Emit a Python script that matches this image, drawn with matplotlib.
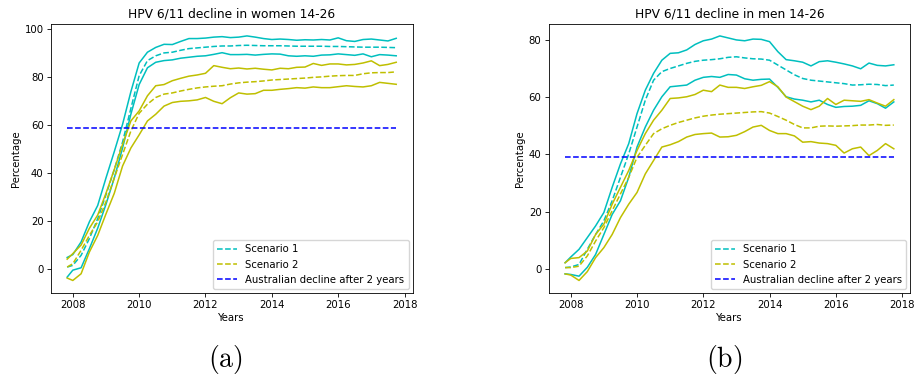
import numpy as np
import matplotlib
matplotlib.use("Agg")
import matplotlib.pyplot as plt

plt.rcParams['mathtext.fontset'] = 'cm'

# Time axis (years), roughly quarterly from Nov 2007 to Oct 2017
years = [2007.83, 2008.0, 2008.25, 2008.5, 2008.75, 2009.0, 2009.25, 2009.5, 2009.75,
         2010.0, 2010.25, 2010.5, 2010.75, 2011.0, 2011.25, 2011.5, 2011.75,
         2012.0, 2012.25, 2012.5, 2012.75, 2013.0, 2013.25, 2013.5, 2013.75,
         2014.0, 2014.25, 2014.5, 2014.75, 2015.0, 2015.25, 2015.5, 2015.75,
         2016.0, 2016.25, 2016.5, 2016.75, 2017.0, 2017.25, 2017.5, 2017.75]

# ---- Women 14-26 ----
w_s1_hi = [4.8, 6.0, 11.3, 19.7, 26.5, 38.0, 49.0, 60.4, 74.0,
           86.0, 90.5, 92.5, 93.8, 93.7, 95.0, 96.2, 96.2,
           96.4, 96.8, 97.0, 96.6, 96.8, 97.3, 96.8, 96.2,
           95.8, 96.0, 95.8, 95.5, 95.7, 95.6, 95.8, 95.6,
           96.5, 95.3, 95.0, 95.8, 96.0, 95.6, 95.2, 96.3]
w_s1_mid = [0.8, 1.5, 5.7, 12.7, 21.0, 31.0, 41.5, 53.0, 67.0,
            80.7, 87.0, 89.0, 90.2, 90.5, 91.3, 92.0, 92.3,
            92.6, 92.9, 93.1, 93.1, 93.3, 93.4, 93.3, 93.2,
            93.2, 93.2, 93.1, 93.0, 93.0, 93.0, 93.0, 92.9,
            92.9, 92.8, 92.7, 92.6, 92.6, 92.6, 92.5, 92.4]
w_s1_lo = [-3.4, -0.5, 0.5, 8.5, 17.0, 27.0, 38.0, 50.5, 64.6,
           77.0, 84.0, 86.3, 87.0, 87.3, 88.0, 88.4, 88.8,
           89.0, 89.6, 90.3, 89.5, 89.5, 89.6, 89.3, 89.6,
           89.8, 89.7, 89.0, 88.8, 89.0, 88.8, 89.3, 89.4,
           89.8, 89.5, 89.2, 89.8, 88.6, 89.5, 89.3, 89.0]
w_s2_hi = [4.1, 6.4, 10.0, 17.0, 22.5, 31.6, 41.5, 52.0, 61.8,
           66.0, 72.3, 76.5, 77.0, 78.6, 79.6, 80.5, 81.0,
           81.7, 84.9, 84.2, 83.6, 83.9, 83.5, 83.8, 83.4,
           83.1, 83.8, 83.6, 84.2, 84.3, 85.8, 85.0, 85.6,
           85.6, 85.2, 85.4, 86.0, 86.9, 84.9, 85.4, 86.3]
w_s2_mid = [0.8, 2.2, 7.8, 14.0, 19.7, 28.0, 38.0, 47.8, 57.6,
            65.0, 68.8, 71.6, 73.0, 73.5, 74.3, 75.0, 75.6,
            76.0, 76.3, 76.5, 77.2, 77.7, 78.0, 78.2, 78.5,
            78.9, 79.1, 79.3, 79.5, 79.7, 80.0, 80.2, 80.5,
            80.7, 80.8, 80.8, 81.5, 81.9, 82.0, 82.0, 82.3]
w_s2_lo = [-3.8, -4.8, -2.0, 7.1, 14.0, 23.0, 31.6, 43.0, 50.5,
           56.0, 61.8, 64.6, 68.0, 69.5, 70.0, 70.2, 70.6,
           71.6, 70.0, 69.0, 71.5, 73.5, 73.0, 73.2, 74.6,
           74.6, 75.0, 75.3, 75.7, 75.5, 76.0, 75.7, 75.7,
           76.1, 76.5, 76.2, 76.0, 76.5, 77.9, 77.5, 77.1]
w_aus = 59.0

# ---- Men 14-26 ----
m_s1_hi = [2.1, 4.1, 6.8, 10.9, 15.0, 19.7, 28.5, 36.7, 43.8,
           54.3, 62.5, 68.4, 73.0, 75.4, 75.6, 76.6, 78.5,
           79.8, 80.4, 81.5, 80.8, 80.1, 79.8, 80.4, 80.3,
           79.5, 76.0, 73.2, 72.8, 72.3, 71.0, 72.5, 72.8,
           72.3, 71.7, 71.0, 70.0, 72.0, 71.2, 71.0, 71.4]
m_s1_mid = [0.4, 0.6, 1.5, 6.8, 12.0, 16.8, 23.8, 32.0, 40.2,
            49.6, 59.0, 66.0, 69.0, 70.1, 71.0, 71.9, 72.6,
            73.0, 73.2, 73.5, 74.0, 74.2, 73.8, 73.5, 73.4,
            73.0, 71.3, 69.6, 67.9, 66.6, 66.0, 65.7, 65.4,
            65.1, 64.8, 64.3, 64.4, 64.6, 64.5, 64.1, 64.3]
m_s1_lo = [-1.8, -2.0, -2.6, 0.5, 5.0, 12.0, 19.0, 23.8, 32.0,
           42.6, 49.6, 55.5, 60.2, 63.7, 64.0, 64.3, 66.0,
           67.0, 67.3, 67.0, 68.0, 67.8, 66.5, 66.0, 66.3,
           66.4, 63.5, 60.2, 59.4, 59.0, 58.4, 59.0, 57.5,
           56.5, 56.8, 56.9, 57.2, 58.8, 57.8, 56.2, 58.4]
m_s2_hi = [2.1, 3.6, 3.9, 6.2, 12.0, 15.6, 22.6, 28.5, 34.4,
           41.4, 47.3, 52.0, 55.5, 59.6, 59.8, 60.2, 61.0,
           62.5, 62.0, 64.3, 63.5, 63.5, 63.1, 63.7, 64.2,
           65.5, 63.7, 60.1, 58.5, 56.9, 55.7, 56.9, 59.6,
           57.5, 59.0, 58.8, 58.6, 59.2, 58.0, 56.9, 59.2]
m_s2_mid = [0.4, 0.4, 0.9, 4.5, 9.7, 14.4, 20.3, 26.2, 32.0,
            39.0, 43.2, 47.3, 49.0, 50.2, 51.2, 52.0, 52.8,
            53.4, 53.8, 54.1, 54.3, 54.5, 54.7, 54.9, 55.0,
            54.5, 53.3, 52.0, 50.5, 49.3, 49.3, 49.9, 50.0,
            49.9, 50.0, 50.1, 50.3, 50.3, 50.5, 50.2, 50.3]
m_s2_lo = [-1.8, -2.2, -4.1, -1.0, 3.9, 7.4, 12.0, 17.9, 22.6,
           26.7, 33.2, 37.9, 42.6, 43.4, 44.5, 46.1, 47.0,
           47.3, 47.5, 46.1, 46.2, 46.7, 48.0, 49.6, 50.2,
           48.4, 47.3, 47.3, 46.5, 44.3, 44.5, 44.0, 43.8,
           43.2, 40.5, 42.0, 42.6, 39.6, 41.4, 43.8, 42.0]
m_aus = 39.0

titles = ["HPV 6/11 decline in women 14-26", "HPV 6/11 decline in men 14-26"]
panel_labels = ["(a)", "(b)"]
legend_labels = ["Scenario 1", "Scenario 2", "Australian decline after 2 years"]
xticks = [2008, 2010, 2012, 2014, 2016, 2018]

FS = 7.3
LW = 1.1

fig = plt.figure(figsize=(9.14, 3.81), dpi=100)
ax_l = fig.add_axes([0.0555, 0.2318, 0.396, 0.706])
ax_r = fig.add_axes([0.6003, 0.2318, 0.3956, 0.706])

panels = [
    (ax_l, (w_s1_lo, w_s1_mid, w_s1_hi), (w_s2_lo, w_s2_mid, w_s2_hi), w_aus),
    (ax_r, (m_s1_lo, m_s1_mid, m_s1_hi), (m_s2_lo, m_s2_mid, m_s2_hi), m_aus),
]

for i, (ax, s1, s2, aus) in enumerate(panels):
    h1, = ax.plot(years, s1[1], color='c', ls='--', lw=LW)
    ax.plot(years, s1[0], color='c', lw=LW)
    ax.plot(years, s1[2], color='c', lw=LW)
    h2, = ax.plot(years, s2[1], color='y', ls='--', lw=LW)
    ax.plot(years, s2[0], color='y', lw=LW)
    ax.plot(years, s2[2], color='y', lw=LW)
    h3, = ax.plot([years[0], years[-1]], [aus, aus], color='b', ls='--', lw=LW)
    ax.set_title(titles[i], fontsize=8.8, pad=4.5)
    ax.set_xlabel("Years", fontsize=FS, labelpad=2.5)
    ax.set_ylabel("Percentage", fontsize=FS, labelpad=2.5)
    ax.set_xticks(xticks)
    ax.tick_params(labelsize=FS, length=2.6, width=0.6, pad=2.5)
    for sp in ax.spines.values():
        sp.set_linewidth(0.6)
    ax.legend([h1, h2, h3], legend_labels, loc='lower right', fontsize=FS,
              handlelength=2.0, borderaxespad=0.4)

fig.text(0.2462, 0.056, r"$(\mathrm{a})$", ha='center', va='center', fontsize=20)
fig.text(0.792, 0.056, r"$(\mathrm{b})$", ha='center', va='center', fontsize=20)

fig.savefig("out.png", dpi=100)
